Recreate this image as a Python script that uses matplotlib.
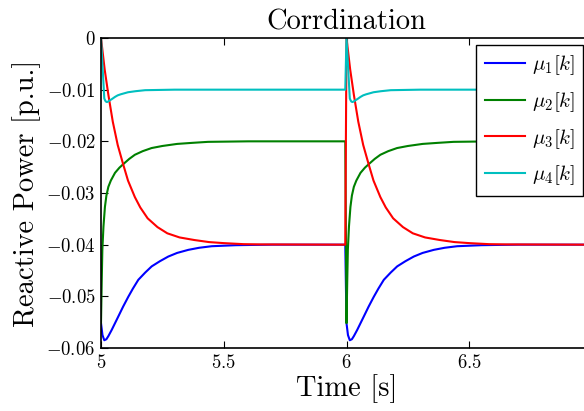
import numpy as np
import matplotlib
matplotlib.use('Agg')
import matplotlib.pyplot as plt

plt.rcParams['font.family'] = 'serif'
plt.rcParams['font.serif'] = ['cmr10']
plt.rcParams['mathtext.fontset'] = 'cm'
plt.rcParams['axes.formatter.use_mathtext'] = True

# one period of the response (time offset from the start of each period, value)
periods = [5.0, 6.0]

mu1_off = [0, 0.006, 0.0134, 0.022, 0.03, 0.0436, 0.0705, 0.09, 0.111, 0.13, 0.152,
           0.18, 0.2065, 0.24, 0.274, 0.31, 0.356, 0.40, 0.451, 0.5, 0.55, 0.62,
           0.7, 0.995]
mu1_val = [-0.0552, -0.0575, -0.0585, -0.0583, -0.0577, -0.0565, -0.0539, -0.0520,
           -0.0501, -0.0485, -0.0468, -0.0454, -0.0442, -0.0432, -0.0423, -0.0416,
           -0.0410, -0.0406, -0.0403, -0.0402, -0.0401, -0.04005, -0.0400, -0.0400]

mu2_off = [0, 0.003, 0.0055, 0.01, 0.016, 0.022, 0.03, 0.04, 0.057, 0.075, 0.091,
           0.115, 0.138, 0.17, 0.206, 0.25, 0.31, 0.37, 0.436, 0.52, 0.6, 0.995]
mu2_val = [-0.0552, -0.0470, -0.0410, -0.0365, -0.0327, -0.0305, -0.0288, -0.0276,
           -0.0261, -0.0251, -0.0244, -0.0234, -0.0226, -0.0219, -0.0213, -0.0209,
           -0.0205, -0.0203, -0.0201, -0.02005, -0.0200, -0.0200]

mu3_off = [0, 0.015, 0.03, 0.048, 0.068, 0.09, 0.11, 0.138, 0.16, 0.19, 0.23, 0.27,
           0.32, 0.38, 0.44, 0.5, 0.58, 0.65, 0.995]
mu3_val = [0, -0.0061, -0.0110, -0.0162, -0.0207, -0.0244, -0.0276, -0.0308, -0.0328,
           -0.0349, -0.0366, -0.0378, -0.0386, -0.0391, -0.0395, -0.0397, -0.0399,
           -0.03995, -0.0400]

mu4_off = [0, 0.0134, 0.017, 0.02, 0.024, 0.029, 0.035, 0.045, 0.057, 0.068, 0.08,
           0.095, 0.11, 0.14, 0.18, 0.24, 0.3, 0.995]
mu4_val = [0, -0.0117, -0.0121, -0.0123, -0.0124, -0.0123, -0.0121, -0.0118, -0.0114,
           -0.0111, -0.0109, -0.0107, -0.0105, -0.0103, -0.0101, -0.01005, -0.0100,
           -0.0100]

labels = [r'$\mu_1[k]$', r'$\mu_2[k]$', r'$\mu_3[k]$', r'$\mu_4[k]$']
colors = ['#0000ff', '#008000', '#ff0000', '#00bfbf']

xticks = [5, 5.5, 6, 6.5]
xtick_labels = ['$5$', '$5.5$', '$6$', '$6.5$']
yticks = [-0.06, -0.05, -0.04, -0.03, -0.02, -0.01, 0]
ytick_labels = ['$-0.06$', '$-0.05$', '$-0.04$', '$-0.03$', '$-0.02$', '$-0.01$', '$0$']


def full_series(off, val):
    t = np.concatenate([p + np.array(off) for p in periods])
    v = np.concatenate([np.array(val) for p in periods])
    return t, v


fig = plt.figure(figsize=(5.84, 4.11), dpi=100)
ax = fig.add_axes([101 / 584, 63 / 411, 491 / 584, 310 / 411])

series = [(mu1_off, mu1_val), (mu2_off, mu2_val), (mu3_off, mu3_val), (mu4_off, mu4_val)]
for (off, val), lab, col in zip(series, labels, colors):
    t, v = full_series(off, val)
    ax.plot(t, v, color=col, lw=1.5, label=lab)

ax.set_xlim(5, 7)
ax.set_ylim(-0.06, 0)
ax.set_xticks(xticks)
ax.set_xticklabels(xtick_labels)
ax.set_yticks(yticks)
ax.set_yticklabels(ytick_labels)
ax.tick_params(direction='in', top=True, right=True, length=5, width=0.8,
               labelsize=13.5, pad=4)
for s in ax.spines.values():
    s.set_linewidth(1.2)

ax.set_title('Corrdination', fontsize=20.5, pad=6)
ax.set_xlabel('Time [s]', fontsize=20.5, labelpad=2)
ax.set_ylabel('Reactive Power [p.u.]', fontsize=20.5, labelpad=4)

leg = ax.legend(loc='upper right', bbox_to_anchor=(583 / 584, 1 - 45 / 411),
                bbox_transform=fig.transFigure, borderaxespad=0, fontsize=15,
                handlelength=1.95, labelspacing=0.62, fancybox=False, framealpha=1,
                edgecolor='black', borderpad=0.4, handletextpad=0.3)
leg.get_frame().set_linewidth(1.0)

fig.savefig('out.png', dpi=100)
